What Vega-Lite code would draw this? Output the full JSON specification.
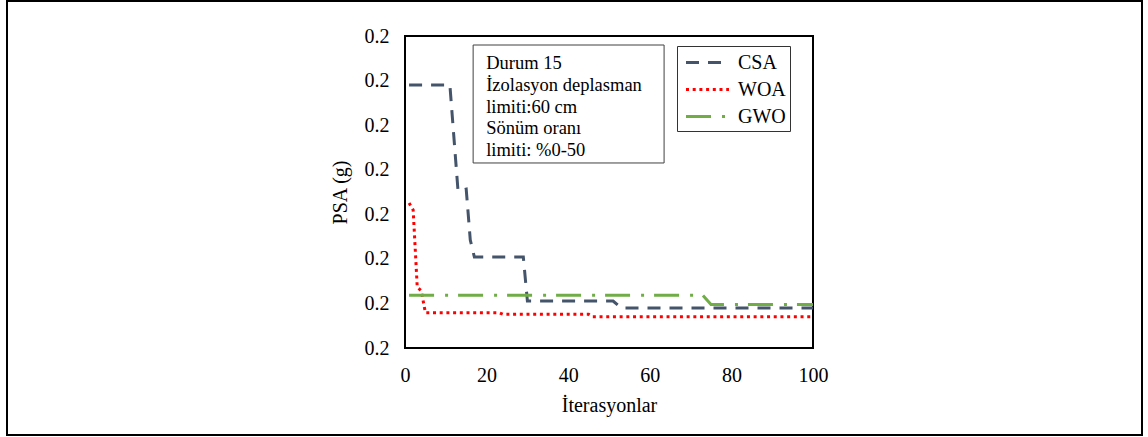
{
  "$schema": "https://vega.github.io/schema/vega-lite/v6.json",
  "width": 1135,
  "height": 434,
  "autosize": {"type": "none"},
  "padding": {"left": 7, "top": 1, "right": 6, "bottom": 2},
  "background": "white",
  "config": {
    "view": {"stroke": "black", "strokeWidth": 2},
    "font": "Liberation Serif",
    "axis": {
      "labelFont": "Liberation Serif",
      "labelFontSize": 20,
      "labelColor": "black",
      "titleFont": "Liberation Serif",
      "titleFontSize": 20,
      "titleFontWeight": "normal",
      "titleColor": "black",
      "ticks": false,
      "grid": false,
      "domain": false
    }
  },
  "datasets": {
    "curves": [
      {"series": "CSA", "it": 1, "psa": 0.20190},
      {"series": "CSA", "it": 11, "psa": 0.20190},
      {"series": "CSA", "it": 13, "psa": 0.199522},
      {"series": "CSA", "it": 15, "psa": 0.199567},
      {"series": "CSA", "it": 16, "psa": 0.198423},
      {"series": "CSA", "it": 17, "psa": 0.198042},
      {"series": "CSA", "it": 29, "psa": 0.198042},
      {"series": "CSA", "it": 30, "psa": 0.197054},
      {"series": "CSA", "it": 51, "psa": 0.197054},
      {"series": "CSA", "it": 53, "psa": 0.196897},
      {"series": "CSA", "it": 100, "psa": 0.196897},
      {"series": "WOA", "it": 1, "psa": 0.199253},
      {"series": "WOA", "it": 2, "psa": 0.199095},
      {"series": "WOA", "it": 3, "psa": 0.197368},
      {"series": "WOA", "it": 4, "psa": 0.197279},
      {"series": "WOA", "it": 5, "psa": 0.196792},
      {"series": "WOA", "it": 23, "psa": 0.196792},
      {"series": "WOA", "it": 24, "psa": 0.196756},
      {"series": "WOA", "it": 45, "psa": 0.196756},
      {"series": "WOA", "it": 46, "psa": 0.196702},
      {"series": "WOA", "it": 100, "psa": 0.196702},
      {"series": "GWO", "it": 1, "psa": 0.197182},
      {"series": "GWO", "it": 73, "psa": 0.197182},
      {"series": "GWO", "it": 75, "psa": 0.196976},
      {"series": "GWO", "it": 100, "psa": 0.196976}
    ],
    "single": [{"item": "annotation"}]
  },
  "layer": [
    {
      "data": {"name": "single"},
      "mark": {"type": "rect", "filled": false, "stroke": "black", "strokeWidth": 2},
      "encoding": {
        "x": {"datum": 0, "type": "quantitative"},
        "x2": {"datum": 100},
        "y": {"datum": 0.196, "type": "quantitative"},
        "y2": {"datum": 0.203}
      }
    },
    {
      "data": {"name": "single"},
      "mark": {"type": "rect", "fill": "white", "stroke": "#404040", "strokeWidth": 1},
      "encoding": {
        "x": {"datum": 16.7, "type": "quantitative"},
        "x2": {"datum": 63.5},
        "y": {"datum": 0.202798, "type": "quantitative"},
        "y2": {"datum": 0.200151}
      }
    },
    {
      "data": {"name": "single"},
      "mark": {
        "type": "text",
        "text": ["Durum 15", "İzolasyon deplasman", "limiti:60 cm", "Sönüm oranı", "limiti: %0-50"],
        "font": "Liberation Serif",
        "fontSize": 18.5,
        "fontWeight": "normal",
        "lineHeight": 21.7,
        "align": "left",
        "baseline": "alphabetic",
        "fill": "black"
      },
      "encoding": {
        "x": {"datum": 19.9, "type": "quantitative"},
        "y": {"datum": 0.202253, "type": "quantitative"}
      }
    },
    {
      "data": {"name": "curves"},
      "mark": {"type": "line", "strokeWidth": 3, "clip": false},
      "encoding": {
        "x": {
          "field": "it",
          "type": "quantitative",
          "title": "İterasyonlar",
          "scale": {"domain": [0, 100], "range": [398, 806], "nice": false, "zero": false},
          "axis": {"offset": -87, "values": [0, 20, 40, 60, 80, 100], "labelPadding": 17, "titlePadding": 10, "labelFlush": false}
        },
        "y": {
          "field": "psa",
          "type": "quantitative",
          "title": "PSA (g)",
          "scale": {"domain": [0.196, 0.203], "range": [347, 35], "nice": false, "zero": false},
          "axis": {"offset": -398, "values": [0.196, 0.197, 0.198, 0.199, 0.2, 0.201, 0.202, 0.203], "format": ".1f", "labelPadding": 16, "titlePadding": 14, "labelFlush": false}
        },
        "color": {
          "field": "series",
          "type": "nominal",
          "sort": ["CSA", "WOA", "GWO"],
          "scale": {"domain": ["CSA", "WOA", "GWO"], "range": ["#44546A", "#FF0000", "#70AD47"]},
          "legend": {
            "title": null,
            "orient": "none",
            "legendX": 670,
            "legendY": 45,
            "strokeColor": "#333333",
            "padding": 4,
            "symbolType": "M-2,0H2",
            "symbolSize": 462,
            "symbolStrokeWidth": 3,
            "symbolOffset": 14,
            "labelOffset": 18,
            "labelFont": "Liberation Serif",
            "labelFontSize": 20,
            "labelColor": "black",
            "rowPadding": 4
          }
        },
        "strokeDash": {
          "field": "series",
          "type": "nominal",
          "sort": ["CSA", "WOA", "GWO"],
          "scale": {"domain": ["CSA", "WOA", "GWO"], "range": [[13, 9], [3, 3.7], [25, 11, 3, 10]]},
          "legend": {
            "title": null,
            "orient": "none",
            "legendX": 670,
            "legendY": 45,
            "strokeColor": "#333333",
            "padding": 4,
            "symbolType": "M-2,0H2",
            "symbolSize": 462,
            "symbolStrokeWidth": 3,
            "symbolOffset": 14,
            "labelOffset": 18,
            "labelFont": "Liberation Serif",
            "labelFontSize": 20,
            "labelColor": "black",
            "rowPadding": 4
          }
        }
      }
    }
  ]
}
